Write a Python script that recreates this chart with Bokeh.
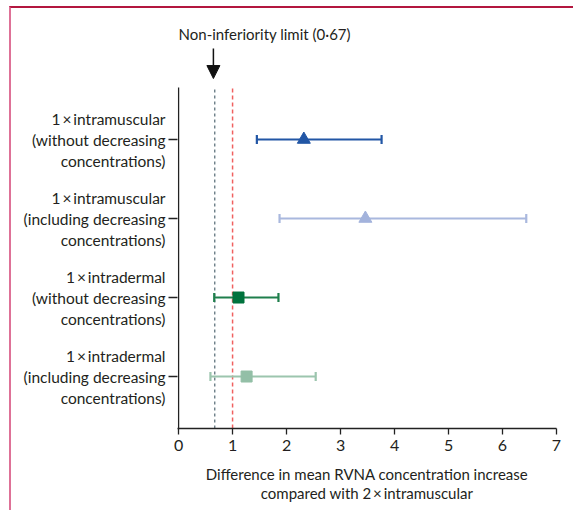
import numpy as np
from bokeh.plotting import figure
from bokeh.layouts import row
from bokeh.models import (Label, Arrow, NormalHead, FixedTicker, Range1d, ColumnDataSource)
from bokeh.core.properties import value
from bokeh.embed import file_html
from bokeh.resources import INLINE

# ---- data ----
groups = [
    "1\u2009×\u2009intramuscular\n(without decreasing\nconcentrations)",
    "1\u2009×\u2009intramuscular\n(including decreasing\nconcentrations)",
    "1\u2009×\u2009intradermal\n(without decreasing\nconcentrations)",
    "1\u2009×\u2009intradermal\n(including decreasing\nconcentrations)",
]
row_pos = [4, 3, 2, 1]
estimates = [2.32, 3.46, 1.11, 1.26]
lower = [1.45, 1.87, 0.66, 0.59]
upper = [3.76, 6.44, 1.85, 2.54]
markers = ["triangle", "triangle", "square", "square"]
marker_colors = ["#2256a5", "#a3b3dc", "#00733d", "#93bfa7"]
bar_colors = ["#2256a5", "#a9b8de", "#1f7f4c", "#9cc5ae"]
x_ticks = [0, 1, 2, 3, 4, 5, 6, 7]
noninf_limit = 0.67
ref_line = 1.0
annot_text = "Non-inferiority limit (0·67)"
x_title = "Difference in mean RVNA concentration increase\ncompared with 2\u2009×\u2009intramuscular"

FONT = "Lato"
TXT = "#231f20"
Y_LO, Y_HI = 0.342, 4.658      # extent of the drawn y axis
Y_TOP = 5.57                   # frame top (room for annotation)
H = 502
B_TOP, B_BOT = 7, 82
yr = Range1d(Y_LO, Y_TOP)

# ---------- main plot ----------
p = figure(width=407, height=H, output_backend="svg", toolbar_location=None,
           x_range=Range1d(-0.02, 7), y_range=yr,
           min_border_left=11, min_border_right=17, min_border_top=B_TOP, min_border_bottom=B_BOT)
p.outline_line_color = None
p.xgrid.visible = False
p.ygrid.visible = False
p.background_fill_color = "white"
p.border_fill_color = "white"

xa = p.xaxis[0]
xa.ticker = FixedTicker(ticks=x_ticks)
xa.minor_tick_line_color = None
xa.major_tick_in = 0
xa.major_tick_out = 6
xa.axis_line_color = "#222"
xa.axis_line_width = 1.3
xa.major_tick_line_color = "#222"
xa.major_tick_line_width = 1.3
xa.major_label_text_font = FONT
xa.major_label_text_font_size = "16px"
xa.major_label_text_color = TXT
xa.major_label_standoff = 5
xa.axis_label = x_title
xa.axis_label_text_font = FONT
xa.axis_label_text_font_style = "normal"
xa.axis_label_text_font_size = "15px"
xa.axis_label_text_color = TXT
xa.axis_label_text_line_height = 1.11
xa.axis_label_standoff = 11

ya = p.yaxis[0]
ya.ticker = FixedTicker(ticks=row_pos)
ya.minor_tick_line_color = None
ya.major_tick_in = 0
ya.major_tick_out = 9
ya.axis_line_color = None
ya.major_tick_line_color = "#222"
ya.major_tick_line_width = 1.3
ya.major_label_overrides = {r: "" for r in row_pos}
ya.major_label_text_font_size = "0px"
ya.major_label_standoff = 0
p.segment(x0=0, x1=0, y0=Y_LO, y1=Y_HI, line_color="#222", line_width=1.3)

# reference lines
p.segment(x0=noninf_limit, x1=noninf_limit, y0=Y_LO, y1=Y_HI, line_color="#5f737d",
          line_dash="3 3", line_width=1.3)
p.segment(x0=ref_line, x1=ref_line, y0=Y_LO, y1=Y_HI, line_color="#f0605f",
          line_dash="4 3", line_width=1.5)

# error bars and estimates
for i in range(len(groups)):
    p.segment(x0=lower[i], x1=upper[i], y0=row_pos[i], y1=row_pos[i],
              line_color=bar_colors[i], line_width=2)
    p.scatter(x=[lower[i], upper[i]], y=[row_pos[i], row_pos[i]], marker="dash",
              angle=np.pi / 2, size=9, line_color=bar_colors[i], line_width=2.2)
    p.scatter(x=[estimates[i]], y=[row_pos[i]], marker=markers[i],
              size=13 if markers[i] == "triangle" else 11,
              fill_color=marker_colors[i], line_color=marker_colors[i])

# annotation
p.add_layout(Arrow(end=NormalHead(size=13, fill_color="#111", line_color="#111"),
                   x_start=noninf_limit - 0.025, y_start=5.152,
                   x_end=noninf_limit - 0.025, y_end=4.772,
                   line_color="#111", line_width=1.5))
p.add_layout(Label(x=0, y=5.342, text=annot_text, text_font=FONT, text_font_size="15px",
                   text_color=TXT, text_align="left", text_baseline="middle"))

# ---------- category label panel (shares the y scale) ----------
frame_h = H - B_TOP - B_BOT
line_gap = 21 * (Y_TOP - Y_LO) / frame_h   # 21 px between label lines
lx, ly, lt = [], [], []
for g, r in zip(groups, row_pos):
    parts = g.split("\n")
    n = len(parts)
    for k, t in enumerate(parts):
        lx.append(1.0)
        ly.append(r + ((n - 1) / 2 - k) * line_gap)
        lt.append(t)

q = figure(width=155, height=H, output_backend="svg", toolbar_location=None,
           x_range=Range1d(0, 1), y_range=yr, x_axis_location=None, y_axis_location=None,
           min_border_left=0, min_border_right=0, min_border_top=B_TOP, min_border_bottom=B_BOT)
q.outline_line_color = None
q.xgrid.visible = False
q.ygrid.visible = False
q.background_fill_color = "white"
q.border_fill_color = "white"
q.text(x="x", y="y", text="t", source=ColumnDataSource(dict(x=lx, y=ly, t=lt)),
       x_offset=-1, text_align="right", text_baseline="middle",
       text_font_size="15.5px", text_color=TXT, text_font=value(FONT))

layout = row(q, p, spacing=0)
layout.styles = {"margin-left": "9px", "margin-top": "6px",
                 "border-top": "2px solid #b3173f", "border-left": "2px solid #de7197"}

open("out.html", "w").write(file_html(layout, INLINE))
